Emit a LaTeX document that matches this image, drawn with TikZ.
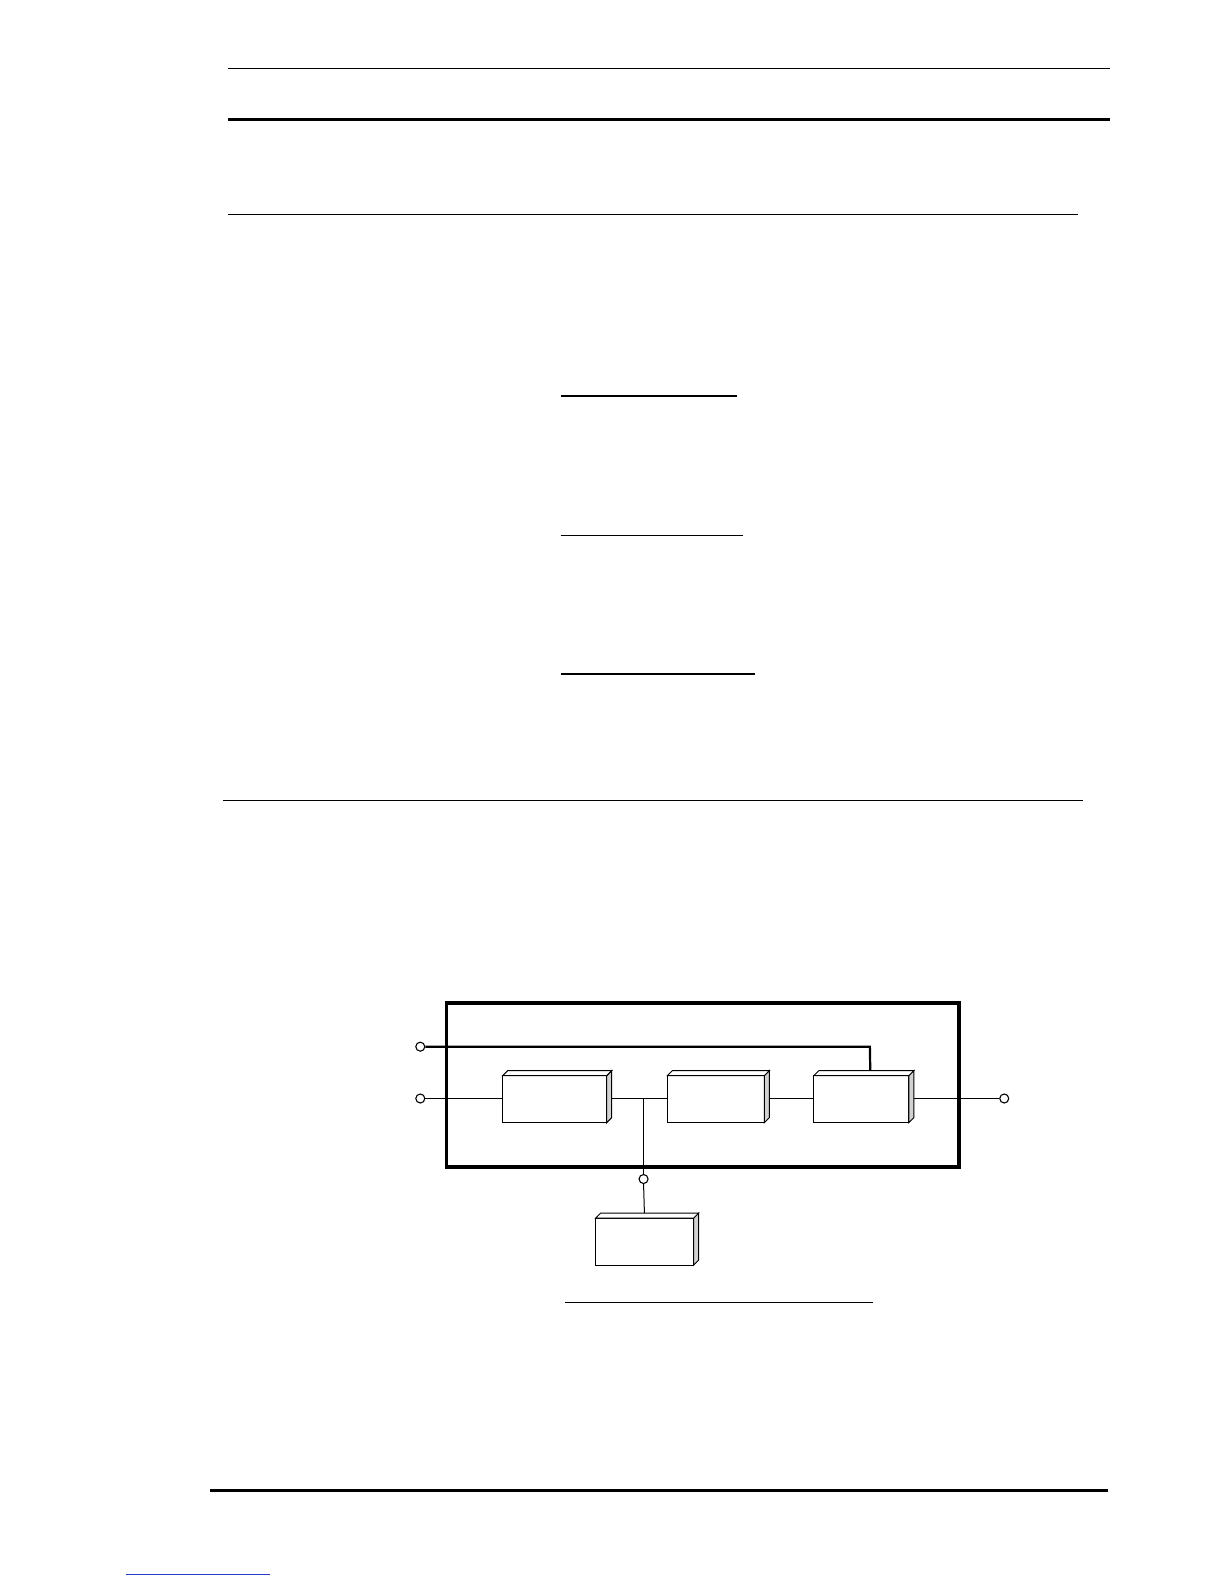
\documentclass[tikz,border=0pt]{standalone}
\usetikzlibrary{calc}
\definecolor{linkblue}{RGB}{40,60,200}
\begin{document}
\begin{tikzpicture}[x=1pt,y=-1pt,
  rule/.style={line width=1.3pt},
  thickrule/.style={line width=3.2pt},
  blk/.style={draw, line width=1.2pt, fill=white, rectangle, inner sep=0pt, outer sep=0pt, minimum height=47pt},
  port/.style={draw, circle, line width=1.1pt, fill=white, inner sep=0pt, minimum size=9pt},
  wire/.style={line width=1pt},
  ctrl/.style={line width=2.2pt},
  sideface/.style={draw, line width=1pt, fill=gray!35},
  topface/.style={draw, line width=1pt, fill=white}
]
\useasboundingbox (0,0) rectangle (1224,1584);
\fill[white] (0,0) rectangle (1224,1584);
\begin{scope}[x=1.0103pt,y=-1.0103pt]
% page rules
\draw[rule] (226,68) -- (1099,68);
\draw[thickrule] (226,118) -- (1099,118);
\draw[rule] (226,212) -- (1067,212);
\draw[rule] (555,392) -- (729,392);
\draw[rule] (555,530) -- (735,530);
\draw[rule] (555,667) -- (747,667);
\draw[rule] (221,792) -- (1072,792);
\draw[rule] (559,1289) -- (864,1289);
\draw[thickrule] (208,1475) -- (1097,1475);
\draw[line width=1pt, linkblue] (125,1558) -- (267,1558);

% outer frame
\draw[line width=3.6pt] (442,993) rectangle (949,1155);

% blocks
\node[blk, minimum width=104pt] (b1) at (549,1088) {};
\node[blk, minimum width=97pt]  (b2) at (708.5,1088) {};
\node[blk, minimum width=95pt]  (b3) at (852.5,1088) {};
\node[blk, minimum width=98pt]  (b4) at (638,1229) {};

% ports
\node[port] (pin1) at (416,1036) {};
\node[port] (pin2) at (416,1087.3) {};
\node[port] (pout) at (994,1087.3) {};
\node[port] (pbot) at (637,1167) {};
\coordinate (j) at (637,1087.3);

% wires
\draw[ctrl] (pin1.east) -- (861,1036) -- ($(b3.north west)+(56,0)$);
\draw[wire] (pin2.east) -- (b1.west |- pin2);
\draw[wire] (b1.east |- j) -- (j) -- (b2.west |- j);
\draw[wire] (b2.east |- j) -- (b3.west |- j);
\draw[wire] (b3.east |- pout) -- (pout.west);
\draw[wire] (j) -- (pbot.north);
\draw[wire] (pbot.south) -- (b4.north);

% 3D faces
\foreach \n in {b1,b2,b3,b4} {
  \draw[sideface] (\n.south east) -- ++(5,-5) -- ($(\n.north east)+(5,-5)$) -- (\n.north east) -- cycle;
  \draw[topface] (\n.north west) -- ++(5,-5) -- ($(\n.north east)+(5,-5)$) -- (\n.north east) -- cycle;
}
\end{scope}
\end{tikzpicture}
\end{document}
